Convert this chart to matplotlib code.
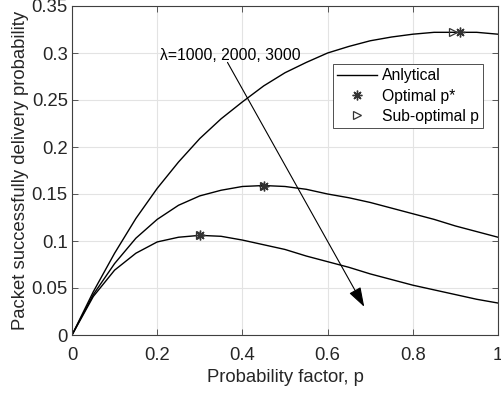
import matplotlib
matplotlib.use("Agg")
import matplotlib.pyplot as plt
from matplotlib.patches import FancyArrowPatch

plt.rcParams['font.family'] = ['Liberation Sans', 'DejaVu Sans']

p = [0.0, 0.05, 0.1, 0.15, 0.2, 0.25, 0.3, 0.35, 0.4, 0.45, 0.5,
     0.55, 0.6, 0.65, 0.7, 0.75, 0.8, 0.85, 0.9, 0.95, 1.0]
ps_1000 = [0.0, 0.046, 0.087, 0.124, 0.156, 0.184, 0.209, 0.230, 0.248, 0.265, 0.279,
           0.290, 0.300, 0.307, 0.313, 0.317, 0.320, 0.322, 0.322, 0.322, 0.320]
ps_2000 = [0.0, 0.043, 0.076, 0.103, 0.123, 0.138, 0.148, 0.154, 0.158, 0.159, 0.158,
           0.155, 0.150, 0.146, 0.141, 0.135, 0.129, 0.123, 0.116, 0.110, 0.104]
ps_3000 = [0.0, 0.041, 0.069, 0.087, 0.099, 0.104, 0.106, 0.105, 0.101, 0.096, 0.091,
           0.084, 0.078, 0.072, 0.065, 0.059, 0.053, 0.048, 0.043, 0.038, 0.034]

opt_p = [0.91, 0.45, 0.30]
opt_v = [0.322, 0.159, 0.106]
sub_p = [0.895, 0.45, 0.30]
sub_v = [0.322, 0.159, 0.106]

xticks = [0, 0.2, 0.4, 0.6, 0.8, 1]
xticklabels = ['0', '0.2', '0.4', '0.6', '0.8', '1']
yticks = [0, 0.05, 0.1, 0.15, 0.2, 0.25, 0.3, 0.35]
yticklabels = ['0', '0.05', '0.1', '0.15', '0.2', '0.25', '0.3', '0.35']

FS = 13.3
FS_SMALL = 11.3

fig = plt.figure(figsize=(5.01, 3.95), dpi=100)
ax = fig.add_axes([72/501, 1-335/395, 426/501, 329/395])

line_color = 'black'
h_line, = ax.plot(p, ps_1000, color=line_color, lw=1.0, label='Anlytical')
ax.plot(p, ps_2000, color=line_color, lw=1.0)
ax.plot(p, ps_3000, color=line_color, lw=1.0)

h_sub, = ax.plot(sub_p, sub_v, linestyle='none', marker='>', markersize=6,
                 markerfacecolor='none', markeredgecolor='#333333', markeredgewidth=0.9,
                 label='Sub-optimal p')
h_opt, = ax.plot(opt_p, opt_v, linestyle='none', marker=(8, 2, 0), markersize=7,
                 markeredgecolor='#333333', markeredgewidth=1.0, label='Optimal p*')

ax.set_xlim(0, 1)
ax.set_ylim(0, 0.35)
ax.set_xticks(xticks)
ax.set_xticklabels(xticklabels)
ax.set_yticks(yticks)
ax.set_yticklabels(yticklabels)
ax.grid(True, color='#e3e3e3', lw=0.8)
ax.set_axisbelow(True)
for s in ax.spines.values():
    s.set_color('#3f3f3f')
    s.set_linewidth(0.8)
ax.tick_params(direction='in', length=4, width=0.6, colors='#3f3f3f',
               labelcolor='#262626', labelsize=FS, top=True, right=True)
ax.tick_params(axis='x', pad=9)
ax.tick_params(axis='y', pad=3)

ax.set_xlabel('Probability factor, p', fontsize=FS, color='#262626', labelpad=3)
ax.set_ylabel('Packet successfully delivery probability', fontsize=FS, color='#262626', labelpad=2)

ax.text(0.207, 0.297, 'λ=1000, 2000, 3000', fontsize=FS_SMALL, color='black', va='center', ha='left')
arrow = FancyArrowPatch((0.365, 0.290), (0.686, 0.030), arrowstyle='-|>,head_length=1.2,head_width=0.4',
                        mutation_scale=10, color='black', lw=0.8, shrinkA=0, shrinkB=0)
ax.add_patch(arrow)

leg = ax.legend(handles=[h_line, h_opt, h_sub], loc='upper left',
                bbox_to_anchor=((333-72)/426, (335-64)/329), borderaxespad=0,
                fontsize=FS_SMALL, frameon=True, fancybox=False, framealpha=1,
                edgecolor='#333333', handlelength=2.55, handletextpad=0.3,
                labelspacing=0.33, borderpad=0.28)
leg.get_frame().set_linewidth(0.6)

fig.savefig('out.png', dpi=100)
